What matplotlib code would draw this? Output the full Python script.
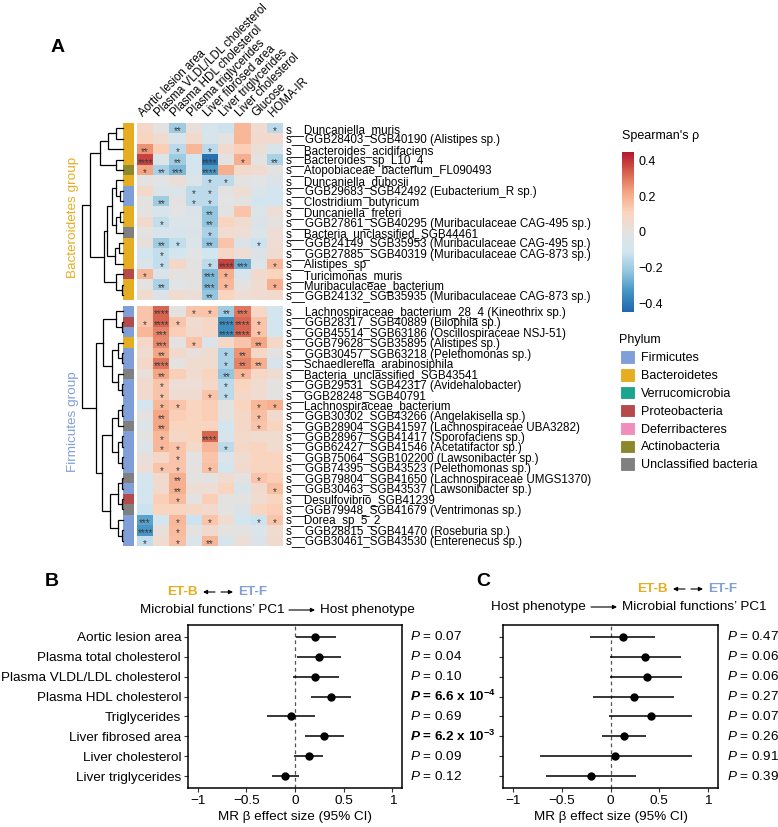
import numpy as np
import matplotlib
matplotlib.use('Agg')
import matplotlib.pyplot as plt
from matplotlib.colors import LinearSegmentedColormap, ListedColormap
from matplotlib.patches import Patch, FancyArrowPatch
import matplotlib.transforms as mtransforms

plt.rcParams['font.family'] = ['Liberation Sans', 'DejaVu Sans']
plt.rcParams['mathtext.fontset'] = 'custom'
plt.rcParams['mathtext.rm'] = 'Liberation Sans'
plt.rcParams['mathtext.it'] = 'Liberation Sans:italic'
plt.rcParams['mathtext.bf'] = 'Liberation Sans:bold'
try:
    plt.rcParams['mathtext.bfit'] = 'Liberation Sans:bold:italic'
except KeyError:
    pass

# ---------------- data: panel A ----------------
phenotypes = ['Aortic lesion area', 'Plasma VLDL/LDL cholesterol', 'Plasma HDL cholesterol',
              'Plasma triglycerides', 'Liver fibrosed area', 'Liver triglycerides',
              'Liver cholesterol', 'Glucose', 'HOMA-IR']

bact_taxa = ['Duncaniella_muris', 'GGB28403_SGB40190 (Alistipes sp.)', 'Bacteroides_acidifaciens',
             'Bacteroides_sp_L10_4', 'Atopobiaceae_bacterium_FL090493', 'Duncaniella_dubosii',
             'GGB29683_SGB42492 (Eubacterium_R sp.)', 'Clostridium_butyricum', 'Duncaniella_freteri',
             'GGB27861_SGB40295 (Muribaculaceae CAG-495 sp.)', 'Bacteria_unclassified_SGB44461',
             'GGB24149_SGB35953 (Muribaculaceae CAG-495 sp.)',
             'GGB27885_SGB40319 (Muribaculaceae CAG-873 sp.)', 'Alistipes_sp', 'Turicimonas_muris',
             'Muribaculaceae_bacterium', 'GGB24132_SGB35935 (Muribaculaceae CAG-873 sp.)']

firm_taxa = ['Lachnospiraceae_bacterium_28_4 (Kineothrix sp.)', 'GGB28317_SGB40889 (Bilophila sp.)',
             'GGB45514_SGB63186 (Oscillospiraceae NSJ-51)', 'GGB79628_SGB35895 (Alistipes sp.)',
             'GGB30457_SGB63218 (Pelethomonas sp.)', 'Schaedlerella_arabinosiphila',
             'Bacteria_unclassified_SGB43541', 'GGB29531_SGB42317 (Avidehalobacter)',
             'GGB28248_SGB40791', 'Lachnospiraceae_bacterium', 'GGB30302_SGB43266 (Angelakisella sp.)',
             'GGB28904_SGB41597 (Lachnospiraceae UBA3282)', 'GGB28967_SGB41417 (Sporofaciens sp.)',
             'GGB62427_SGB41546 (Acetatifactor sp.)', 'GGB75064_SGB102200 (Lawsonibacter sp.)',
             'GGB74395_SGB43523 (Pelethomonas sp.)', 'GGB79804_SGB41650 (Lachnospiraceae UMGS1370)',
             'GGB30463_SGB43537 (Lawsonibacter sp.)', 'Desulfovibrio_SGB41239',
             'GGB79948_SGB41679 (Ventrimonas sp.)', 'Dorea_sp_5_2', 'GGB28815_SGB41470 (Roseburia sp.)',
             'GGB30461_SGB43530 (Enterenecus sp.)']

phyla = ['Firmicutes', 'Bacteroidetes', 'Verrucomicrobia', 'Proteobacteria',
         'Deferribacteres', 'Actinobacteria', 'Unclassified bacteria']
phylum_colors = ['#809FD9', '#E5AE22', '#1BA58F', '#B54A4B', '#F08DBB', '#8C882C', '#808080']

bact_phylum = [1, 1, 1, 1, 5, 1, 0, 0, 1, 1, 6, 1, 1, 1, 3, 1, 1]
firm_phylum = [0, 3, 0, 1, 0, 0, 6, 0, 0, 0, 0, 6, 0, 0, 0, 0, 6, 0, 3, 6, 0, 0, 0]

rho_bact = np.array([
    [0.08, 0.00, -0.20, 0.02, -0.08, -0.12, 0.18, 0.05, -0.15],
    [0.10, 0.05, -0.07, 0.06, -0.08, 0.00, 0.18, 0.06, 0.06],
    [0.25, 0.12, -0.15, 0.18, -0.15, 0.06, 0.12, 0.03, -0.07],
    [0.38, -0.06, -0.20, -0.10, -0.42, 0.00, 0.20, 0.00, -0.18],
    [0.22, -0.18, -0.25, -0.08, -0.32, 0.20, 0.07, 0.05, 0.00],
    [0.00, -0.02, 0.03, -0.06, -0.15, -0.15, 0.00, -0.02, -0.05],
    [0.07, -0.06, -0.06, -0.15, -0.15, 0.00, 0.04, -0.06, -0.10],
    [0.00, -0.20, 0.00, -0.15, -0.15, -0.02, 0.00, -0.10, -0.10],
    [0.00, -0.08, -0.02, -0.05, -0.22, 0.00, 0.15, -0.06, 0.04],
    [0.06, -0.14, -0.06, -0.06, -0.22, 0.10, 0.05, -0.05, 0.00],
    [0.00, -0.08, -0.08, -0.05, -0.18, 0.05, 0.04, -0.06, 0.04],
    [0.02, -0.20, -0.14, -0.06, -0.22, 0.15, -0.05, -0.12, 0.04],
    [-0.10, -0.14, -0.10, -0.02, -0.10, 0.08, 0.04, -0.05, 0.05],
    [-0.06, -0.14, 0.08, 0.00, -0.15, 0.38, -0.28, -0.06, 0.18],
    [0.18, -0.05, 0.00, 0.00, -0.25, 0.20, -0.08, 0.06, 0.10],
    [0.00, -0.18, -0.02, 0.00, -0.25, 0.18, 0.00, 0.05, 0.20],
    [0.05, -0.05, 0.05, 0.03, -0.22, 0.10, 0.04, 0.05, 0.06],
])
stars_bact = [
    [0, 0, 2, 0, 0, 0, 0, 0, 1],
    [0, 0, 0, 0, 0, 0, 0, 0, 0],
    [2, 0, 1, 0, 1, 0, 0, 0, 0],
    [4, 0, 2, 0, 4, 0, 1, 0, 2],
    [1, 2, 3, 0, 4, 0, 0, 0, 0],
    [0, 0, 0, 0, 1, 1, 0, 0, 0],
    [0, 0, 0, 1, 1, 0, 0, 0, 0],
    [0, 2, 0, 1, 1, 0, 0, 0, 0],
    [0, 0, 0, 0, 2, 0, 0, 0, 0],
    [0, 1, 0, 0, 2, 0, 0, 0, 0],
    [0, 0, 0, 0, 1, 0, 0, 0, 0],
    [0, 2, 1, 0, 2, 0, 0, 1, 0],
    [0, 1, 0, 0, 0, 0, 0, 0, 0],
    [0, 1, 0, 0, 1, 4, 3, 0, 1],
    [1, 0, 0, 0, 3, 1, 0, 0, 0],
    [0, 2, 0, 0, 3, 1, 0, 0, 1],
    [0, 0, 0, 0, 2, 0, 0, 0, 0],
]

rho_firm = np.array([
    [0.15, 0.33, 0.00, 0.15, 0.15, -0.20, 0.30, 0.08, -0.10],
    [0.15, 0.33, 0.15, 0.05, 0.08, -0.35, 0.33, 0.15, -0.10],
    [0.18, 0.28, 0.12, 0.06, 0.08, -0.35, 0.33, 0.15, -0.10],
    [0.08, 0.27, 0.00, 0.15, -0.05, 0.08, 0.15, 0.22, 0.08],
    [0.05, 0.22, 0.06, 0.02, 0.05, -0.18, 0.25, 0.08, 0.00],
    [0.08, 0.30, 0.00, 0.05, 0.05, -0.18, 0.28, 0.20, -0.08],
    [0.02, 0.22, 0.12, 0.05, 0.10, -0.22, 0.18, 0.08, 0.05],
    [0.06, 0.15, 0.04, 0.04, 0.08, -0.15, 0.10, 0.05, 0.00],
    [0.06, 0.15, 0.05, 0.05, 0.15, -0.15, 0.08, 0.05, 0.00],
    [-0.10, 0.18, 0.15, 0.10, 0.12, 0.00, 0.10, 0.18, 0.20],
    [0.00, 0.22, 0.12, 0.10, 0.12, 0.00, 0.08, 0.16, 0.06],
    [-0.06, 0.22, 0.10, 0.10, 0.10, -0.10, 0.08, 0.15, 0.10],
    [0.00, 0.18, 0.08, 0.10, 0.33, -0.08, 0.07, 0.05, 0.05],
    [-0.06, 0.18, 0.15, 0.07, 0.18, -0.15, 0.08, 0.10, 0.05],
    [0.02, 0.08, 0.15, 0.00, 0.15, -0.06, 0.05, 0.10, 0.10],
    [0.04, 0.15, 0.15, 0.00, 0.16, -0.10, 0.06, 0.10, 0.10],
    [-0.10, 0.06, 0.20, 0.00, 0.00, 0.05, 0.00, 0.15, 0.12],
    [-0.10, 0.06, 0.20, 0.04, 0.04, 0.10, -0.07, 0.06, 0.16],
    [-0.10, 0.12, 0.17, 0.00, 0.12, 0.00, 0.00, 0.05, 0.10],
    [-0.12, 0.10, 0.10, 0.08, 0.06, 0.00, -0.05, 0.10, 0.12],
    [-0.30, -0.10, 0.18, -0.12, 0.15, 0.05, -0.10, -0.12, 0.15],
    [-0.33, 0.02, 0.17, 0.00, 0.06, 0.00, 0.00, -0.06, 0.05],
    [-0.14, 0.05, 0.16, -0.06, 0.18, -0.08, 0.03, -0.05, 0.06],
])
stars_firm = [
    [0, 4, 0, 1, 1, 2, 3, 0, 0],
    [1, 4, 1, 0, 0, 4, 4, 1, 0],
    [0, 3, 0, 0, 0, 4, 4, 1, 0],
    [0, 3, 0, 1, 0, 0, 0, 2, 0],
    [0, 2, 0, 0, 0, 1, 2, 0, 0],
    [0, 4, 0, 0, 0, 1, 2, 2, 0],
    [0, 2, 0, 0, 0, 2, 1, 0, 0],
    [0, 1, 0, 0, 0, 1, 0, 0, 0],
    [0, 1, 0, 0, 1, 1, 0, 0, 0],
    [0, 1, 1, 0, 0, 0, 0, 1, 1],
    [0, 2, 0, 0, 0, 0, 0, 1, 0],
    [0, 2, 0, 0, 0, 0, 0, 1, 0],
    [0, 1, 0, 0, 4, 0, 0, 0, 0],
    [0, 1, 1, 0, 0, 1, 0, 0, 0],
    [0, 0, 1, 0, 0, 0, 0, 0, 0],
    [0, 1, 1, 0, 1, 0, 0, 0, 0],
    [0, 0, 2, 0, 0, 0, 0, 1, 0],
    [0, 0, 2, 0, 0, 0, 0, 0, 1],
    [0, 0, 1, 0, 0, 0, 0, 0, 0],
    [0, 0, 0, 0, 0, 0, 0, 0, 0],
    [3, 0, 1, 0, 1, 0, 0, 1, 1],
    [4, 0, 1, 0, 0, 0, 0, 0, 0],
    [1, 0, 1, 0, 2, 0, 0, 0, 0],
]

# row dendrograms: (left, right, merge height)
bact_tree = (((((0, 1, 7), 2, 15), (3, 4, 7), 23),
              ((((5, (6, 7, 3), 7), ((8, 9, 3), 10, 7), 11), ((11, 12, 4), 13, 8), 16),
               (14, (15, 16, 1.5), 7), 19), 33))
firm_tree = (((0, (1, 2, 1.5), 7), ((3, (4, 5, 1.5), 5.5), (6, (7, 8, 1.5), 5.5), 11), 20),
             ((((9, 10, 1.5), 11, 5.5), ((12, 13, 1.5), (14, 15, 1.5), 5.5), 11),
              (((16, 17, 1.5), (18, 19, 1.5), 5.5), (20, (21, 22, 1.5), 5.5), 13), 21), 27)
root_height = 41

# ---------------- data: panels B and C ----------------
mr_traits = ['Aortic lesion area', 'Plasma total cholesterol', 'Plasma VLDL/LDL cholesterol',
             'Plasma HDL cholesterol', 'Triglycerides', 'Liver fibrosed area',
             'Liver cholesterol', 'Liver triglycerides']
b_beta = [0.21, 0.25, 0.21, 0.37, -0.04, 0.30, 0.14, -0.10]
b_lo = [0.01, 0.02, -0.02, 0.165, -0.29, 0.10, -0.01, -0.24]
b_hi = [0.42, 0.47, 0.45, 0.58, 0.21, 0.50, 0.29, 0.04]
b_p = ['0.07', '0.04', '0.10', '6.6 x 10$^{\\mathbf{-4}}$', '0.69', '6.2 x 10$^{\\mathbf{-3}}$', '0.09', '0.12']
b_bold = [False, False, False, True, False, True, False, False]

c_beta = [0.13, 0.35, 0.37, 0.24, 0.41, 0.14, 0.05, -0.195]
c_lo = [-0.205, -0.01, -0.003, -0.174, -0.017, -0.09, -0.725, -0.66]
c_hi = [0.46, 0.72, 0.735, 0.65, 0.83, 0.36, 0.83, 0.26]
c_p = ['0.47', '0.06', '0.06', '0.27', '0.07', '0.26', '0.91', '0.39']
c_bold = [False] * 8

# ---------------- figure ----------------
W, H = 778, 827
fig = plt.figure(figsize=(W / 100, H / 100), dpi=100)


def rect(x0, y0, x1, y1):
    return [x0 / W, 1 - y1 / H, (x1 - x0) / W, (y1 - y0) / H]


def fx(x):
    return x / W


def fy(y):
    return 1 - y / H


gold = '#E5AE22'
lblue = '#809FD9'
cmap = LinearSegmentedColormap.from_list(
    'rho', ['#2166AC', '#4393C3', '#92C5DE', '#D1E5F0', '#E4E2E1',
            '#FCD3BC', '#F4A582', '#D6604D', '#B2182B'])

nb, nf = len(bact_taxa), len(firm_taxa)
gap = 0.55
ypos_b = np.arange(nb) + 0.5
ypos_f = nb + gap + np.arange(nf) + 0.5
ytot = nb + gap + nf
hm_top, hm_bot = 123, 546

ax = fig.add_axes(rect(137, hm_top, 283, hm_bot))
xe = np.arange(len(phenotypes) + 1)
mesh = ax.pcolormesh(xe, np.arange(nb + 1), rho_bact, cmap=cmap, vmin=-0.45, vmax=0.45)
ax.pcolormesh(xe, nb + gap + np.arange(nf + 1), rho_firm, cmap=cmap, vmin=-0.45, vmax=0.45)
for stars, ys in [(stars_bact, ypos_b), (stars_firm, ypos_f)]:
    for i, srow in enumerate(stars):
        for j, s in enumerate(srow):
            if s:
                ax.text(j + 0.5, ys[i] + 0.3, '*' * s, ha='center', va='center',
                        fontsize=7, color='#3a3a3a')
ax.set_xlim(0, len(phenotypes))
ax.set_ylim(ytot, 0)
ax.set_xticks([])
ax.yaxis.tick_right()
ax.set_yticks(np.concatenate([ypos_b, ypos_f]))
ax.set_yticklabels(['s__' + t for t in bact_taxa + firm_taxa], fontsize=8.4)
ax.tick_params(axis='y', length=0, pad=2)
for sp in ax.spines.values():
    sp.set_visible(False)
for j, ph in enumerate(phenotypes):
    ax.text(j + 0.5, -0.35, ph, rotation=45, ha='left', va='bottom',
            rotation_mode='anchor', fontsize=8.3)

# phylum annotation column
axp = fig.add_axes(rect(123, hm_top, 134, hm_bot))
pcm = ListedColormap(phylum_colors)
axp.pcolormesh([0, 1], np.arange(nb + 1), np.array(bact_phylum)[:, None], cmap=pcm,
               vmin=-0.5, vmax=len(phyla) - 0.5)
axp.pcolormesh([0, 1], nb + gap + np.arange(nf + 1), np.array(firm_phylum)[:, None], cmap=pcm,
               vmin=-0.5, vmax=len(phyla) - 0.5)
axp.set_xlim(0, 1)
axp.set_ylim(ytot, 0)
axp.axis('off')

# dendrogram
axd = fig.add_axes(rect(82, hm_top, 123, hm_bot))


def draw_tree(node, ys):
    if isinstance(node, int):
        return 0.0, ys[node]
    left, right, h = node
    hl, yl = draw_tree(left, ys)
    hr, yr = draw_tree(right, ys)
    axd.plot([hl, h, h, hr], [yl, yl, yr, yr], color='black', lw=0.9,
             solid_joinstyle='miter', clip_on=False)
    return h, (yl + yr) / 2


hb, yb = draw_tree(bact_tree, ypos_b)
hf, yf = draw_tree(firm_tree, ypos_f)
axd.plot([hb, root_height, root_height, hf], [yb, yb, yf, yf], color='black', lw=0.9, clip_on=False)
axd.set_xlim(root_height, 0)
axd.set_ylim(ytot, 0)
axd.axis('off')

fig.text(fx(73), fy(217), 'Bacteroidetes group', rotation=90, ha='center', va='center',
         fontsize=9.7, color=gold)
fig.text(fx(73), fy(422), 'Firmicutes group', rotation=90, ha='center', va='center',
         fontsize=9.7, color=lblue)
fig.text(fx(58), fy(47), 'A', fontsize=14, fontweight='bold', ha='center', va='center')

# colorbar
cax = fig.add_axes(rect(622, 152, 634, 312))
cb = fig.colorbar(mesh, cax=cax, ticks=[-0.4, -0.2, 0, 0.2, 0.4])
cb.ax.set_yticklabels(['\u22120.4', '\u22120.2', '0', '0.2', '0.4'], fontsize=9)
cb.ax.tick_params(length=0, pad=3)
cb.outline.set_visible(False)
fig.text(fx(622), fy(136), "Spearman's \u03c1", fontsize=9, ha='left', va='center')

# phylum legend
handles = [Patch(facecolor=c, edgecolor='white', lw=0.8) for c in phylum_colors]
leg = fig.legend(handles, phyla, loc='upper left', bbox_to_anchor=(fx(617), fy(332)),
                 title='Phylum', frameon=False, fontsize=9, title_fontsize=9,
                 handlelength=1.25, handleheight=1.25, labelspacing=0.32,
                 handletextpad=0.5, borderaxespad=0, borderpad=0.2, alignment='left')

# ---------------- forest plots ----------------
yy = np.arange(1, len(mr_traits) + 1)


def forest(x0, x1, beta, lo, hi, pvals, bold, labels, ptx):
    a = fig.add_axes(rect(x0, 625, x1, 788))
    beta = np.array(beta)
    a.axvline(0, ls=(0, (3, 2.5)), color='#555555', lw=0.9, zorder=1)
    a.errorbar(beta, yy, xerr=[beta - np.array(lo), np.array(hi) - beta], fmt='o', color='black',
               ms=5, lw=1.1, capsize=0, zorder=3)
    a.set_xlim(-1.1, 1.1)
    a.set_ylim(len(mr_traits) + 0.6, 0.4)
    a.set_xticks([-1, -0.5, 0, 0.5, 1])
    a.set_xticklabels(['\u22121', '\u22120.5', '0', '0.5', '1'], fontsize=9.7)
    a.set_yticks(yy)
    if labels:
        a.set_yticklabels(mr_traits, fontsize=9.7)
    else:
        a.set_yticklabels([])
    a.tick_params(length=3, width=0.8, color='#333333', pad=2)
    for sp in a.spines.values():
        sp.set_linewidth(1.1)
    a.set_xlabel('MR \u03b2 effect size (95% CI)', fontsize=9.7, labelpad=3)
    tr = mtransforms.blended_transform_factory(a.transAxes, a.transData)
    for k, (p, b) in enumerate(zip(pvals, bold)):
        if b:
            a.text(ptx, yy[k], '$\\mathbfit{P}$ = ' + p, transform=tr, fontsize=9.7,
                   fontweight='bold', ha='left', va='center')
        else:
            a.text(ptx, yy[k], '$P$ = ' + p, transform=tr, fontsize=9.7, ha='left', va='center')
    return a


forest(188, 402, b_beta, b_lo, b_hi, b_p, b_bold, True, 1.037)
forest(503, 718, c_beta, c_lo, c_hi, c_p, c_bold, False, 1.042)

fig.text(fx(52), fy(582), 'B', fontsize=14, fontweight='bold', ha='center', va='center')
fig.text(fx(483), fy(582), 'C', fontsize=14, fontweight='bold', ha='center', va='center')


def arrow(x0, x1, y, scale=6):
    fig.add_artist(FancyArrowPatch((fx(x0), fy(y)), (fx(x1), fy(y)), arrowstyle='-|>',
                                   mutation_scale=scale, lw=0.8, color='black',
                                   transform=fig.transFigure, shrinkA=0, shrinkB=0))


def header(cx1, y1, xl, xr, y2, left_txt, right_txt):
    fig.text(fx(cx1 - 20), fy(y1), 'ET-B', color=gold, fontweight='bold', fontsize=9.7,
             ha='right', va='center')
    arrow(cx1 - 3, cx1 - 15, y1)
    arrow(cx1 + 3, cx1 + 15, y1)
    fig.text(fx(cx1 + 20), fy(y1), 'ET-F', color=lblue, fontweight='bold', fontsize=9.7,
             ha='left', va='center')
    fig.text(fx(xl - 5), fy(y2), left_txt, fontsize=9.7, ha='right', va='center')
    arrow(xl, xr, y2)
    fig.text(fx(xr + 5), fy(y2), right_txt, fontsize=9.7, ha='left', va='center')


header(218, 592, 289, 315, 610, 'Microbial functions\u2019 PC1', 'Host phenotype')
header(688, 589, 591, 617, 607, 'Host phenotype', 'Microbial functions\u2019 PC1')

fig.savefig('out.png', dpi=100)
